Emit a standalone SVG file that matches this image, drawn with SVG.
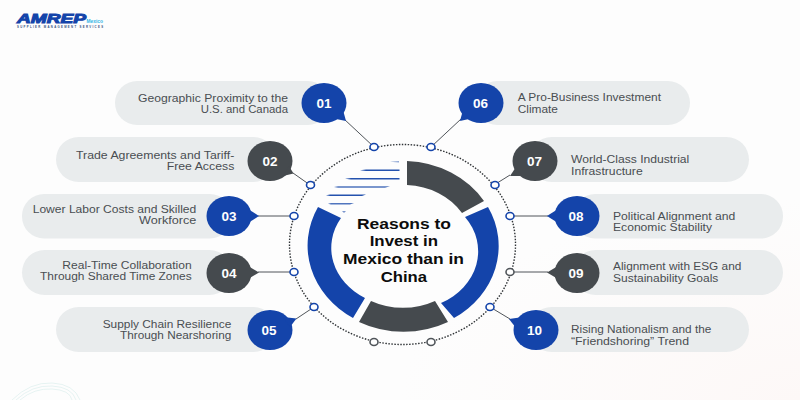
<svg xmlns="http://www.w3.org/2000/svg" width="800" height="400" viewBox="0 0 800 400">
<style>
.pill{fill:#e9eced}
.b{fill:#1444aa}
.g{fill:#454a4e}
.t{font-family:"Liberation Sans",sans-serif;font-size:10px;fill:#4a4e52}
.r{text-anchor:end}
.n{font-family:"Liberation Sans",sans-serif;font-weight:700;font-size:13.5px;fill:#fff;text-anchor:middle}
.c{font-family:"Liberation Sans",sans-serif;font-weight:700;font-size:15px;fill:#0c0c0c}
.ln{stroke:#50555a;stroke-width:1;fill:none}
.db{fill:#fff;stroke:#1444aa;stroke-width:1.6}
.dg{fill:#fff;stroke:#50555a;stroke-width:1.6}
.w{fill:none;stroke:#cfe8e6;stroke-width:.5}
</style>
<defs>
<radialGradient id="bg" cx="100%" cy="100%" r="50%"><stop offset="0" stop-color="#fdf8f7"/><stop offset="1" stop-color="#fdfdfd"/></radialGradient>
</defs>
<rect width="800" height="400" fill="url(#bg)"/>
<g id="waves">
<path class="w" d="M12 400Q30 382 52 383T80 400"/>
<path class="w" d="M16 400Q32 385 52 386T76 400"/>
<path class="w" d="M20 400Q34 388 52 389T72 400"/>
</g>
<g id="logo">
<text x="17" y="22.500" font-family="Liberation Sans,sans-serif" font-weight="700" font-style="italic" font-size="12" fill="#1444aa" stroke="#1444aa" stroke-width=".9" textLength="69" lengthAdjust="spacingAndGlyphs">AMREP</text>
<text x="86.500" y="22.500" font-family="Liberation Sans,sans-serif" font-weight="700" font-size="4.500" fill="#35b6e6" textLength="16.500" lengthAdjust="spacingAndGlyphs">Mexico</text>
<text x="17" y="27.600" font-family="Liberation Sans,sans-serif" font-weight="700" font-size="2.800" fill="#33507f" textLength="86">SUPPLIER MANAGEMENT SERVICES</text>
</g>
<g id="connectors">
<ellipse cx="402.500" cy="244.500" rx="113" ry="100" fill="none" stroke="#2f3336" stroke-width="1.400" stroke-dasharray="1.500 1.500"/>
<path class="ln" d="M344 119L374 147M293 173L310 185M258 216H294M258 272H294M296 319L314 307M461 119L431 147M510 175L494 185M548 216H510M548 272H510M510 319L490 307"/>
</g>
<g id="hub">
<path class="g" d="M407 161A95.500 85 0 0 1 484 201L462 213A68 58 0 0 0 407 185Z"/>
<path class="b" d="M488 207A95.500 85 0 0 1 454 318L441 303A68 58 0 0 0 465 217Z"/>
<path class="g" d="M448 322A95.500 85 0 0 1 359 322L371 301A68 58 0 0 0 435 301Z"/>
<path class="b" d="M353 318A95.500 85 0 0 1 318 207L341 218A68 58 0 0 0 365 298Z"/>
<g id="stripes" fill="#2452ae">
<path fill-opacity=".5" d="M390 161.700L399 161L399 162.500Z"/>
<path d="M360 170.300L366 169.500H399.500V171H366Z"/>
<path d="M345 178.700L351 177.900H399.500V179.500H351Z"/>
<path fill-opacity=".8" d="M334 187L338 186.200H390L385 187.800H338Z"/>
<path d="M326 195.300L330 194.500H366L362 196.100H330Z"/>
<path fill-opacity=".8" d="M328 203.700L331 202.900H354L350 204.500H331Z"/>
<path fill-opacity=".6" d="M342 211L346 211L344 213Z"/>
</g>
<g id="title">
<text class="c" x="357" y="228.700" textLength="94" lengthAdjust="spacingAndGlyphs">Reasons to</text>
<text class="c" x="369.700" y="246.300" textLength="68.300" lengthAdjust="spacingAndGlyphs">Invest in</text>
<text class="c" x="343" y="264" textLength="121" lengthAdjust="spacingAndGlyphs">Mexico than in</text>
<text class="c" x="380.700" y="281.700" textLength="46.300" lengthAdjust="spacingAndGlyphs">China</text>
</g>
<g id="dots">
<ellipse class="db" cx="374" cy="147" rx="4" ry="3.500"/>
<ellipse class="db" cx="431" cy="147" rx="4" ry="3.500"/>
<ellipse class="db" cx="495" cy="185" rx="4" ry="3.500"/>
<ellipse class="db" cx="510" cy="216" rx="4" ry="3.500"/>
<ellipse class="dg" cx="510" cy="272" rx="4" ry="3.500"/>
<ellipse class="db" cx="490" cy="307" rx="4" ry="3.500"/>
<ellipse class="dg" cx="431" cy="342" rx="4" ry="3.500"/>
<ellipse class="dg" cx="374" cy="342" rx="4" ry="3.500"/>
<ellipse class="db" cx="314" cy="307" rx="4" ry="3.500"/>
<ellipse class="db" cx="294" cy="272" rx="4" ry="3.500"/>
<ellipse class="db" cx="294" cy="216" rx="4" ry="3.500"/>
<ellipse class="db" cx="310.500" cy="185" rx="4" ry="3.500"/>
</g>
</g>
<g id="node-01">
<rect class="pill" x="115" y="81" width="215" height="44" rx="22"/>
<ellipse class="b" cx="324" cy="103" rx="22.500" ry="20"/><path class="b" d="M336 119L346 121L343 110Z"/>
<text class="n" x="324" y="108">01</text>
<text class="t r" x="288" y="101.700" textLength="150" lengthAdjust="spacingAndGlyphs">Geographic Proximity to the</text>
<text class="t r" x="288" y="113.400" textLength="87.300" lengthAdjust="spacingAndGlyphs">U.S. and Canada</text>
</g>
<g id="node-02">
<rect class="pill" x="56" y="137" width="220" height="45" rx="22.500"/>
<ellipse class="g" cx="270" cy="161" rx="22.500" ry="20"/><path class="g" d="M283 176L293.500 173.500L289 166Z"/>
<text class="n" x="270" y="166">02</text>
<text class="t r" x="234.300" y="158.700" textLength="158.300" lengthAdjust="spacingAndGlyphs">Trade Agreements and Tariff-</text>
<text class="t r" x="234.300" y="170.400" textLength="67.600" lengthAdjust="spacingAndGlyphs">Free Access</text>
</g>
<g id="node-03">
<rect class="pill" x="22" y="194" width="210" height="44.500" rx="22"/>
<ellipse class="b" cx="229" cy="216" rx="22.500" ry="20"/><path class="b" d="M248 209L259 216L248 223Z"/>
<text class="n" x="229" y="221">03</text>
<text class="t r" x="196.300" y="212.700" textLength="163.600" lengthAdjust="spacingAndGlyphs">Lower Labor Costs and Skilled</text>
<text class="t r" x="196.300" y="224.400" textLength="57.300" lengthAdjust="spacingAndGlyphs">Workforce</text>
</g>
<g id="node-04">
<rect class="pill" x="22" y="250" width="210" height="45" rx="22.500"/>
<ellipse class="g" cx="229" cy="273" rx="22.500" ry="20"/><path class="g" d="M248 266L259 272.500L248 279Z"/>
<text class="n" x="229" y="278">04</text>
<text class="t r" x="191.700" y="268.500" textLength="129.400" lengthAdjust="spacingAndGlyphs">Real-Time Collaboration</text>
<text class="t r" x="191.700" y="280.200" textLength="151.700" lengthAdjust="spacingAndGlyphs">Through Shared Time Zones</text>
</g>
<g id="node-05">
<rect class="pill" x="56" y="307" width="220" height="45" rx="22.500"/>
<ellipse class="b" cx="270" cy="330" rx="22.500" ry="20"/><path class="b" d="M283 317L296.500 318.500L290 327Z"/>
<text class="n" x="269" y="335">05</text>
<text class="t r" x="231.300" y="327.500" textLength="128.600" lengthAdjust="spacingAndGlyphs">Supply Chain Resilience</text>
<text class="t r" x="231.300" y="339.200" textLength="111.300" lengthAdjust="spacingAndGlyphs">Through Nearshoring</text>
</g>
<g id="node-06">
<rect class="pill" x="475" y="81" width="215" height="44" rx="22"/>
<ellipse class="b" cx="481" cy="103" rx="22.500" ry="20"/><path class="b" d="M469 119L460 121L463 110Z"/>
<text class="n" x="480.500" y="108">06</text>
<text class="t" x="517.700" y="101" textLength="143.300" lengthAdjust="spacingAndGlyphs">A Pro-Business Investment</text>
<text class="t" x="517.700" y="112.700" textLength="40.300" lengthAdjust="spacingAndGlyphs">Climate</text>
</g>
<g id="node-07">
<rect class="pill" x="529" y="137" width="220" height="45" rx="22.500"/>
<ellipse class="g" cx="535" cy="161" rx="22.500" ry="20"/><path class="g" d="M522 176L510 176L516 167Z"/>
<text class="n" x="534.500" y="166">07</text>
<text class="t" x="571" y="163.300" textLength="118.300" lengthAdjust="spacingAndGlyphs">World-Class Industrial</text>
<text class="t" x="571" y="175" textLength="71.700" lengthAdjust="spacingAndGlyphs">Infrastructure</text>
</g>
<g id="node-08">
<rect class="pill" x="573" y="194" width="210" height="44.500" rx="22"/>
<ellipse class="b" cx="577" cy="216" rx="22.500" ry="20"/><path class="b" d="M558 209L547 216L558 223Z"/>
<text class="n" x="576" y="221">08</text>
<text class="t" x="613" y="219.500" textLength="122.300" lengthAdjust="spacingAndGlyphs">Political Alignment and</text>
<text class="t" x="613" y="231.200" textLength="99" lengthAdjust="spacingAndGlyphs">Economic Stability</text>
</g>
<g id="node-09">
<rect class="pill" x="573" y="250" width="210" height="45" rx="22.500"/>
<ellipse class="g" cx="577" cy="273" rx="22.500" ry="20"/><path class="g" d="M558 266L547 272.500L558 279Z"/>
<text class="n" x="576" y="278">09</text>
<text class="t" x="613" y="270.300" textLength="128.300" lengthAdjust="spacingAndGlyphs">Alignment with ESG and</text>
<text class="t" x="613" y="282" textLength="105.300" lengthAdjust="spacingAndGlyphs">Sustainability Goals</text>
</g>
<g id="node-10">
<rect class="pill" x="529" y="307" width="220" height="45" rx="22.500"/>
<ellipse class="b" cx="536" cy="330" rx="22.500" ry="20"/><path class="b" d="M523 317L509 319L516 328Z"/>
<text class="n" x="534.500" y="335">10</text>
<text class="t" x="571" y="333" textLength="140.300" lengthAdjust="spacingAndGlyphs">Rising Nationalism and the</text>
<text class="t" x="571" y="345" textLength="118" lengthAdjust="spacingAndGlyphs">“Friendshoring” Trend</text>
</g>
</svg>
